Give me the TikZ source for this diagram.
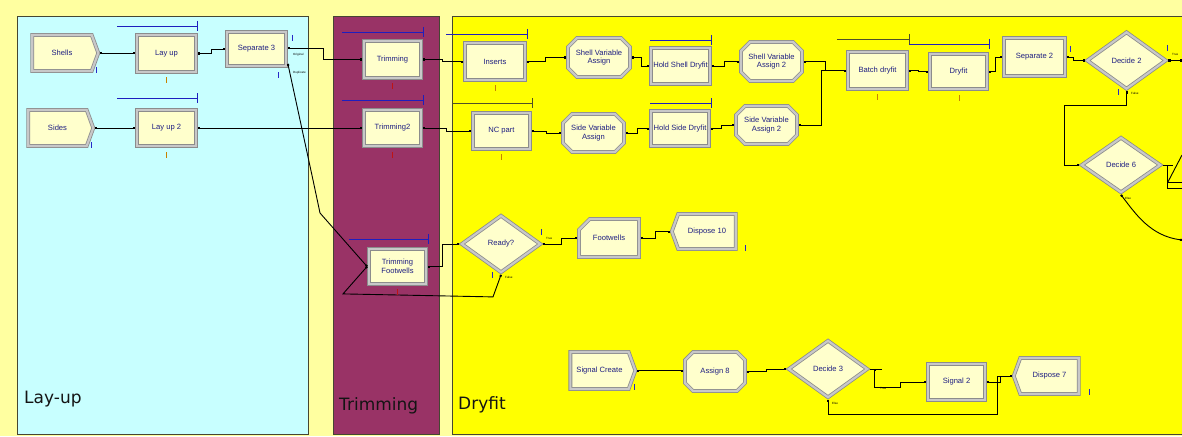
\documentclass[tikz,border=0pt]{standalone}
\usepackage{fontspec}
\setmainfont{Liberation Sans}
\newfontfamily\regionfont{DejaVu Sans}
\usetikzlibrary{shapes.geometric,shapes.misc,shapes.symbols,arrows.meta}

\definecolor{paleyel}{RGB}{255,255,160}
\definecolor{layupbg}{RGB}{200,255,255}
\definecolor{trimbg}{RGB}{153,51,102}
\definecolor{dryfitbg}{RGB}{255,255,0}
\definecolor{frame}{RGB}{70,70,50}
\definecolor{cream}{RGB}{255,255,204}
\definecolor{rimdark}{RGB}{140,140,140}
\definecolor{rimlight}{RGB}{200,200,200}
\definecolor{modtext}{RGB}{30,30,130}
\definecolor{resblue}{RGB}{30,30,190}
\definecolor{resdark}{RGB}{80,80,40}
\definecolor{qorange}{RGB}{200,130,0}
\definecolor{qred}{RGB}{190,20,20}
\definecolor{qblue}{RGB}{40,40,200}

\tikzset{
  module/.style={draw=rimdark, double=rimlight, double distance=2.2pt, line width=0.8pt,
    fill=cream, text=modtext, font=\fontsize{7.6}{8.6}\selectfont, align=center,
    inner sep=0pt, outer sep=1.9pt},
  proc/.style={module, rectangle},
  create/.style={module, signal, signal to=east, signal pointer angle=140},
  dispose/.style={module, signal, signal to=west, signal pointer angle=140},
  assign/.style={module, chamfered rectangle, chamfered rectangle xsep=4.5pt, chamfered rectangle ysep=4.5pt},
  record/.style={module, chamfered rectangle, chamfered rectangle corners=north west,
    chamfered rectangle xsep=8pt, chamfered rectangle ysep=8pt},
  decide/.style={module, diamond},
  wire/.style={line width=0.9pt, black},
  conn/.style={wire, arrows={Square[length=2pt,width=2pt]-Square[length=2pt,width=2pt]}},
  tiny/.style={font=\fontsize{3}{3}\selectfont, text=black, inner sep=0pt},
  region/.style={font=\regionfont\fontsize{17}{20}\selectfont, text={rgb,255:red,20;green,20;blue,20}, inner sep=0pt, anchor=base west},
  areaframe/.style={draw=frame, line width=0.8pt}
}

% queue marker under a module
\newcommand{\qtick}[3]{\draw[#1,line width=0.9pt] (#2,#3-3) -- (#2,#3+3);}
% resource / queue bar above a module: colour, x from, x to, y
\newcommand{\resbar}[4]{\draw[#1,line width=0.9pt] (#2,#4) -- (#3,#4) (#3,#4-5) -- (#3,#4+5);}

\begin{document}
\begin{tikzpicture}[x=1pt,y=-1pt]
\useasboundingbox (0,0) rectangle (1182,436);
\clip (0,0) rectangle (1182,436);
\fill[paleyel] (0,0) rectangle (1182,436);

% process areas
\fill[layupbg] (17,16) rectangle (308,434);
\draw[areaframe] (17,16) rectangle (308,434);
\fill[trimbg] (333,16) rectangle (439,434);
\draw[areaframe] (333,16) rectangle (439,434);
\fill[dryfitbg] (452,16) rectangle (1200,434);
\draw[areaframe] (452,16) rectangle (1200,434);

\node[region] (lbllayup) at (24,403) {Lay-up};
\node[region] (lbltrim) at (339,410) {Trimming};
\node[region] (lbldryfit) at (458,409) {Dryfit};

% resource bars
\resbar{resblue}{117}{197}{26}
\resbar{resblue}{117}{197}{98}
\resbar{resblue}{342}{423}{32}
\resbar{resblue}{342}{423}{100}
\resbar{resblue}{349}{428}{239}
\resbar{resblue}{446}{527}{34}
\resbar{resdark}{452}{532}{103}
\resbar{resblue}{650}{711}{40}
\resbar{resblue}{650}{711}{103}
\resbar{resdark}{837}{909}{39}
\resbar{resblue}{909}{989}{44}

% modules
\node[create, minimum width=66, minimum height=36] (shells) at (62,53) {Shells};
\node[create, minimum width=65, minimum height=36] (sides) at (57.5,128) {Sides};
\node[proc, minimum width=59, minimum height=37] (layup) at (166.5,53.5) {Lay up};
\node[proc, minimum width=59, minimum height=36] (layup2) at (166.5,128) {Lay up 2};
\node[proc, minimum width=59, minimum height=34] (sep3) at (256.5,49) {Separate 3};
\node[proc, minimum width=57, minimum height=37] (trim) at (392.5,59.5) {Trimming};
\node[proc, minimum width=57, minimum height=36] (trim2) at (392.5,128) {Trimming2};
\node[proc, minimum width=57, minimum height=35] (trimfw) at (397.5,266.5) {Trimming\\Footwells};
\node[proc, minimum width=60, minimum height=37] (inserts) at (495,61.5) {Inserts};
\node[proc, minimum width=57, minimum height=36] (ncpart) at (501.5,131) {NC part};
\node[assign, minimum width=62, minimum height=39] (sva) at (599,57.5) {Shell Variable\\Assign};
\node[assign, minimum width=61, minimum height=38] (sideva) at (593.5,133) {Side Variable\\Assign};
\node[proc, minimum width=59, minimum height=36] (holdshell) at (680.5,66) {Hold Shell Dryfit};
\node[proc, minimum width=58, minimum height=35] (holdside) at (680,128.5) {Hold Side Dryfit};
\node[assign, minimum width=61, minimum height=39] (sva2) at (771.5,61.5) {Shell Variable\\Assign 2};
\node[assign, minimum width=61, minimum height=38] (sideva2) at (766.5,125) {Side Variable\\Assign 2};
\node[proc, minimum width=59, minimum height=37] (batch) at (877.5,70.5) {Batch dryfit};
\node[proc, minimum width=57, minimum height=35] (dryfit) at (958.5,71.5) {Dryfit};
\node[proc, minimum width=61, minimum height=38] (sep2) at (1034.5,57) {Separate 2};
\node[decide, minimum width=80, minimum height=58] (decide2) at (1126.5,60.5) {Decide 2};
\node[decide, minimum width=80, minimum height=56] (decide6) at (1121,165) {Decide 6};
\node[decide, minimum width=80, minimum height=58] (ready) at (501,244) {Ready?};
\node[record, minimum width=60, minimum height=38] (footwells) at (609,238) {Footwells};
\node[dispose, minimum width=64, minimum height=35] (disp10) at (707,231.5) {Dispose 10};
\node[create, minimum width=65, minimum height=37] (sigcreate) at (599.5,370.5) {Signal Create};
\node[assign, minimum width=60, minimum height=39] (assign8) at (715,371.5) {Assign 8};
\node[decide, minimum width=80, minimum height=58] (decide3) at (828,369) {Decide 3};
\node[proc, minimum width=57, minimum height=36] (signal2) at (956.5,382) {Signal 2};
\node[dispose, minimum width=65, minimum height=36] (disp7) at (1049.5,376) {Dispose 7};

% loose ends at the right border
\coordinate (edge2) at (1182,60.5);
\coordinate (r6a) at (1182,155);
\coordinate (r6b) at (1182,182);
\coordinate (r6c) at (1182,188);
\coordinate (r6d) at (1182,240);

% connectors
\draw[conn] (shells.east) -- (shells.east -| layup.west);
\draw[conn] (layup.east) -- ++(14,0) |- (sep3.west);
\draw[conn] (sides.east) -- (sides.east -| layup2.west);
\draw[conn] (layup2.east) -- (layup2.east -| trim2.west);
\draw[conn] ([yshift=1]sep3.east) -- ++(36,0) |- (trim.west);
\draw[conn] ([yshift=4]sep3.south east) -- (313,180) -- (320,213) -- (trimfw.west);
\draw[conn] (ready.south) -- ++(-8,22) -- ++(-150,-3) -- (trimfw.west);
\draw[conn] (trimfw.east) -- ++(15,0) |- (ready.west);
\draw[conn] (trim.east) -- ++(20,0) |- (inserts.west);
\draw[conn] (trim2.east) -- ++(24,0) |- (ncpart.west);
\draw[conn] (inserts.east) -- ++(19,0) |- (sva.west);
\draw[conn] (ncpart.east) -- ++(15,0) |- (sideva.west);
\draw[conn] (sva.east) -- ++(10,0) |- (holdshell.west);
\draw[conn] (sideva.east) -- ++(12,0) |- (holdside.west);
\draw[conn] (holdshell.east) -- ++(13,0) |- (sva2.west);
\draw[conn] (holdside.east) -- ++(11,0) |- (sideva2.west);
\draw[conn] (sva2.east) -- ++(22,0) |- (batch.west);
\draw[conn] (sideva2.east) -- ++(23,0) |- (batch.west);
\draw[conn] (batch.east) -- ++(10,0) |- (dryfit.west);
\draw[conn] (dryfit.east) -- ++(7,0) |- (sep2.west);
\draw[conn] (sep2.east) -- ++(7,0) |- (decide2.west);
\draw[conn] (decide2.east) -- (edge2);
\draw[conn] (decide2.south) -- ++(0,14) -| ([xshift=-15]decide6.west) -- (decide6.west);
\draw[wire] (decide6.east) -- ++(10,0) ++(-5,0) |- (r6c);
\draw[wire] ([xshift=5,yshift=-17]decide6.east) -- (r6b);
\draw[wire] ([xshift=5,yshift=-17]decide6.east) -- (r6a);
\draw[conn] (decide6.south) .. controls (1135,213) and (1150,236) .. (r6d);
\draw[conn] (ready.east) -- ++(19,0) |- (footwells.west);
\draw[conn] (footwells.east) -- ++(15,0) |- (disp10.west);
\draw[conn] (sigcreate.east) -- (sigcreate.east -| assign8.west);
\draw[conn] (assign8.east) -- ++(20,0) |- (decide3.west);
\draw[conn] (decide3.east) -- ++(12,0) ++(-7,0) -- ++(0,18) -- ++(26,0) |- (signal2.west);
\draw[conn] (decide3.south) -- ++(0,15) -| ([xshift=-14]disp7.west) -- (disp7.west);
\draw[conn] (signal2.east) -- ++(14,0) |- (disp7.west);

% queue markers
\qtick{qblue}{96}{70}
\qtick{qblue}{91}{145}
\qtick{qblue}{292}{38}
\qtick{qblue}{278}{75}
\qtick{qblue}{634}{387}
\qtick{qblue}{745}{248}
\qtick{qblue}{1070}{49}
\qtick{qblue}{1167}{48}
\qtick{qblue}{1118}{92}
\qtick{qblue}{541}{232}
\qtick{qblue}{492}{275}
\qtick{qblue}{1089}{392}
\qtick{qorange}{166}{80}
\qtick{qorange}{166}{155}
\qtick{qorange}{495}{88}
\qtick{qorange}{501}{157}
\qtick{qorange}{877}{97}
\qtick{qorange}{959}{98}
\qtick{qred}{392}{86}
\qtick{qred}{392}{155}
\qtick{qred}{397}{292}

% exit point labels
\node[tiny, anchor=west] (tOrig) at (293,55) {Original};
\node[tiny, anchor=west] (tDup) at (293,73) {Duplicate};
\node[tiny, anchor=west] (tRT) at (546,238) {True};
\node[tiny, anchor=west] (tRF) at (505,277) {False};
\node[tiny, anchor=west] (tD2T) at (1172,54) {True};
\node[tiny, anchor=west] (tD2F) at (1131,93) {False};
\node[tiny, anchor=west] (tD6E) at (1125,198) {Else};
\node[tiny, anchor=west] (tD3E) at (832,403) {Else};
\node[tiny, anchor=west] (tD3T) at (880,388) {True};
\end{tikzpicture}
\end{document}
